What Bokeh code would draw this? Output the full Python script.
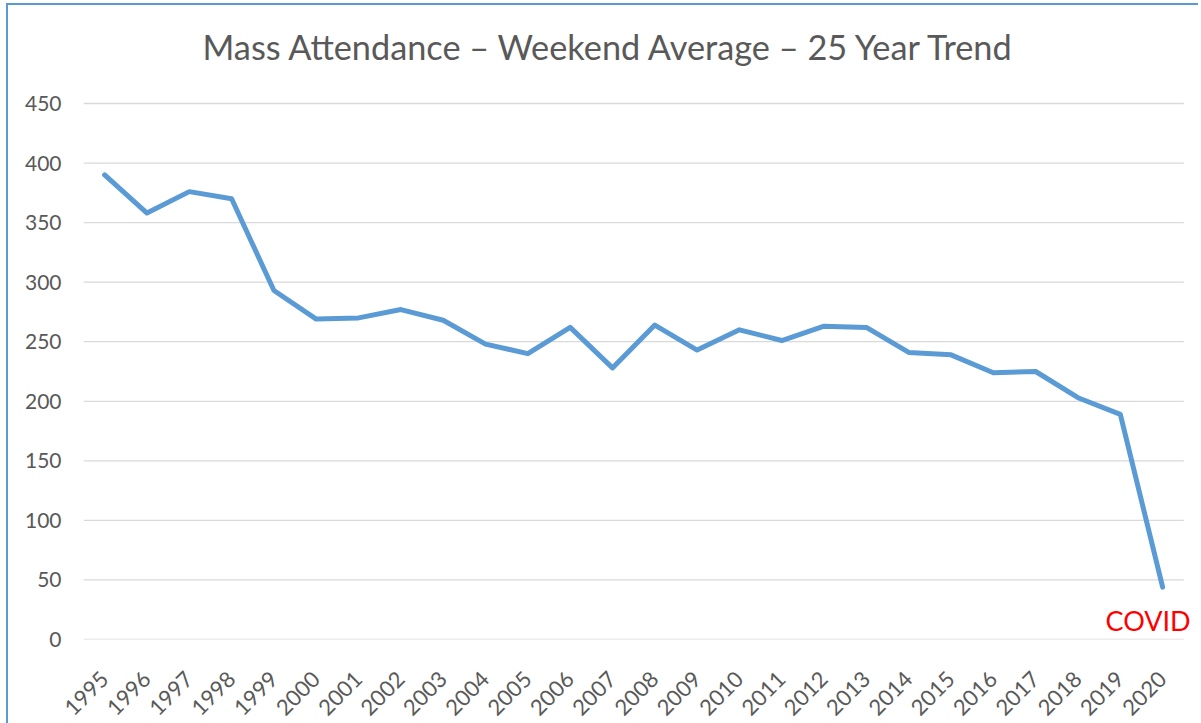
from bokeh.plotting import figure
from bokeh.models import Range1d, FixedTicker, Label
from bokeh.embed import file_html
from bokeh.resources import INLINE
import math

years = [str(y) for y in range(1995, 2021)]
attendance = [390, 358, 376, 370, 293, 269, 270, 277, 268, 248, 240, 262, 228,
              264, 243, 260, 251, 263, 262, 241, 239, 224, 225, 203, 189, 44]
y_ticks = [0, 50, 100, 150, 200, 250, 300, 350, 400, 450]
title_text = "Mass Attendance \u2013 Weekend Average \u2013 25 Year Trend"
note_text = "COVID"

FONT = "Lato"
GREY = "#595959"
BLUE = "#5B9BD5"
GRID = "#D9D9D9"

n = len(years)
xs = list(range(n))
plot_w = 1100                      # width of the category area (px)
plot_h = 536                       # height of the value area (px)
unit_px = plot_w / n               # width of one category slot
extra = 0.3                        # room to the right for the note text
headroom_px = 98                   # room above the value area for the title
px_per_val = plot_h / y_ticks[-1]
y_end = y_ticks[-1] + headroom_px / px_per_val

p = figure(x_range=Range1d(-0.5, n - 0.5 + extra), y_range=Range1d(0, y_end),
           frame_width=int(round(plot_w + extra * unit_px)),
           frame_height=plot_h + headroom_px,
           min_border_left=75, min_border_top=0, min_border_right=2,
           min_border_bottom=70,
           output_backend="svg", toolbar_location=None)

# horizontal gridlines spanning the category slots only
p.segment(x0=[-0.5] * len(y_ticks), x1=[n - 0.5] * len(y_ticks),
          y0=y_ticks, y1=y_ticks, line_color=GRID, line_width=1.3)

p.line(x=xs, y=attendance, line_color=BLUE, line_width=5,
       line_join="round", line_cap="round")

title = Label(x=-0.5, y=y_ticks[-1], text=title_text, text_color=GREY,
              text_font=FONT, text_font_size="34.3px", text_align="left",
              text_baseline="alphabetic", x_offset=119, y_offset=57)
p.add_layout(title)

p.outline_line_color = None
p.background_fill_color = "white"
p.border_fill_color = "white"

p.xgrid.grid_line_color = None
p.ygrid.grid_line_color = None

p.yaxis.ticker = FixedTicker(ticks=y_ticks)
p.yaxis.axis_line_color = None
p.yaxis.major_tick_line_color = None
p.yaxis.minor_tick_line_color = None
p.yaxis.major_tick_out = 0
p.yaxis.major_label_standoff = 22
p.yaxis.major_label_text_font = FONT
p.yaxis.major_label_text_font_size = "21px"
p.yaxis.major_label_text_color = GREY

p.xaxis.ticker = FixedTicker(ticks=xs)
p.xaxis.major_label_overrides = {i: y for i, y in zip(xs, years)}
p.xaxis.axis_line_color = None
p.xaxis.major_tick_line_color = None
p.xaxis.minor_tick_line_color = None
p.xaxis.major_tick_out = 0
p.xaxis.major_label_orientation = math.pi / 4
p.xaxis.major_label_standoff = 36
p.xaxis.major_label_text_font = FONT
p.xaxis.major_label_text_font_size = "22px"
p.xaxis.major_label_text_color = GREY

note = Label(x=xs[-1], y=0, text=note_text, text_color="#FF0000",
             text_font=FONT, text_font_size="27px", text_align="right",
             x_offset=28, y_offset=3)
p.add_layout(note)

p.styles = {"border-left": "2px solid " + BLUE, "border-top": "2px solid " + BLUE,
            "margin-left": "6px", "margin-top": "3px"}

open("out.html", "w").write(file_html(p, INLINE))
